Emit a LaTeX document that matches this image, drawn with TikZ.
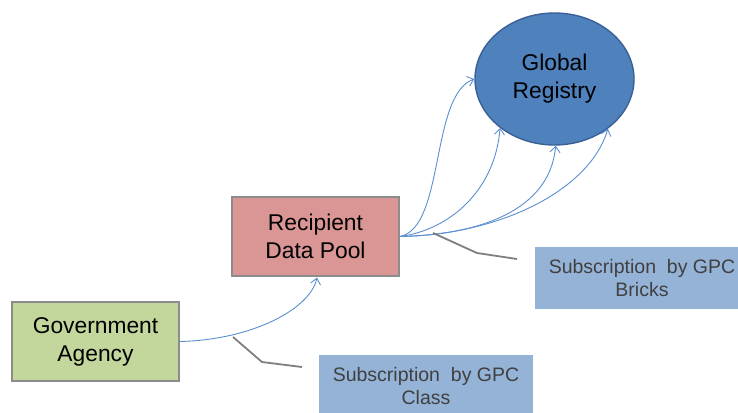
\documentclass[tikz,border=0pt]{standalone}
\usepackage{fontspec}
\setmainfont{Liberation Sans}
\usetikzlibrary{arrows.meta,shapes.geometric}
\definecolor{grfill}{HTML}{4F81BD}
\definecolor{grline}{HTML}{3A6196}
\definecolor{rdpfill}{HTML}{D99694}
\definecolor{gafill}{HTML}{C3D69B}
\definecolor{boxline}{HTML}{8C8C8C}
\definecolor{subfill}{HTML}{95B3D7}
\definecolor{conn}{HTML}{5B8FD0}
\definecolor{callout}{HTML}{7F7F7F}
\definecolor{subtext}{HTML}{404040}
\tikzset{
  entity/.style={draw=boxline, line width=1.6pt, align=center, inner sep=0pt,
    font=\fontsize{22.8}{28}\selectfont},
  subbox/.style={fill=subfill, align=center, inner sep=0pt, text=subtext,
    minimum width=214pt, minimum height=62pt, font=\fontsize{19.5}{23}\selectfont},
  flow/.style={draw=conn, line width=0.9pt, -{Straight Barb[length=6pt,width=10pt,line width=0.9pt]}},
  call/.style={draw=callout, line width=1.8pt}
}
\begin{document}
\begin{tikzpicture}[x=1pt,y=-1pt]
\path[use as bounding box] (0,0) rectangle (738,412);
\clip (0,0) rectangle (738,412);
\fill[white] (0,0) rectangle (738,412);
\node[ellipse, fill=grfill, draw=grline, line width=1.4pt, minimum width=159pt, minimum height=132pt,
  align=center, inner sep=0pt, font=\fontsize{22.8}{28}\selectfont] (gr) at (554.5,79) {Global\\Registry};
\node[entity, fill=rdpfill, minimum width=167pt, minimum height=79pt] (rdp) at (315.5,236.5) {Recipient\\Data Pool};
\node[entity, fill=gafill, minimum width=167pt, minimum height=79pt] (ga) at (95.5,341.5) {Government\\Agency};
\node[subbox] (bricks) at (642,278) {Subscription~~by GPC\\Bricks};
\node[subbox] (class) at (426,386) {Subscription~~by GPC\\Class};
% connectors
\draw[flow] (ga.east) .. controls (250,340) and (310,310) .. (317,277.5);
\draw[flow] (rdp.east) .. controls (445,228) and (430,95) .. (gr.180);
\draw[flow] (rdp.east) .. controls (450,230) and (495,190) .. (gr.222);
\draw[flow] (rdp.east) .. controls (480,235) and (550,210) .. (gr.271);
\draw[flow] (rdp.east) .. controls (500,235) and (590,190) .. (gr.317);
% callouts
\coordinate (cb) at (433,233);
\coordinate (cbe) at (517,259);
\coordinate (cc) at (233,337);
\coordinate (cce) at (302,367);
\draw[call] (cb) -- (477,253) -- (cbe);
\draw[call] (cc) -- (262,362) -- (cce);
\end{tikzpicture}
\end{document}
